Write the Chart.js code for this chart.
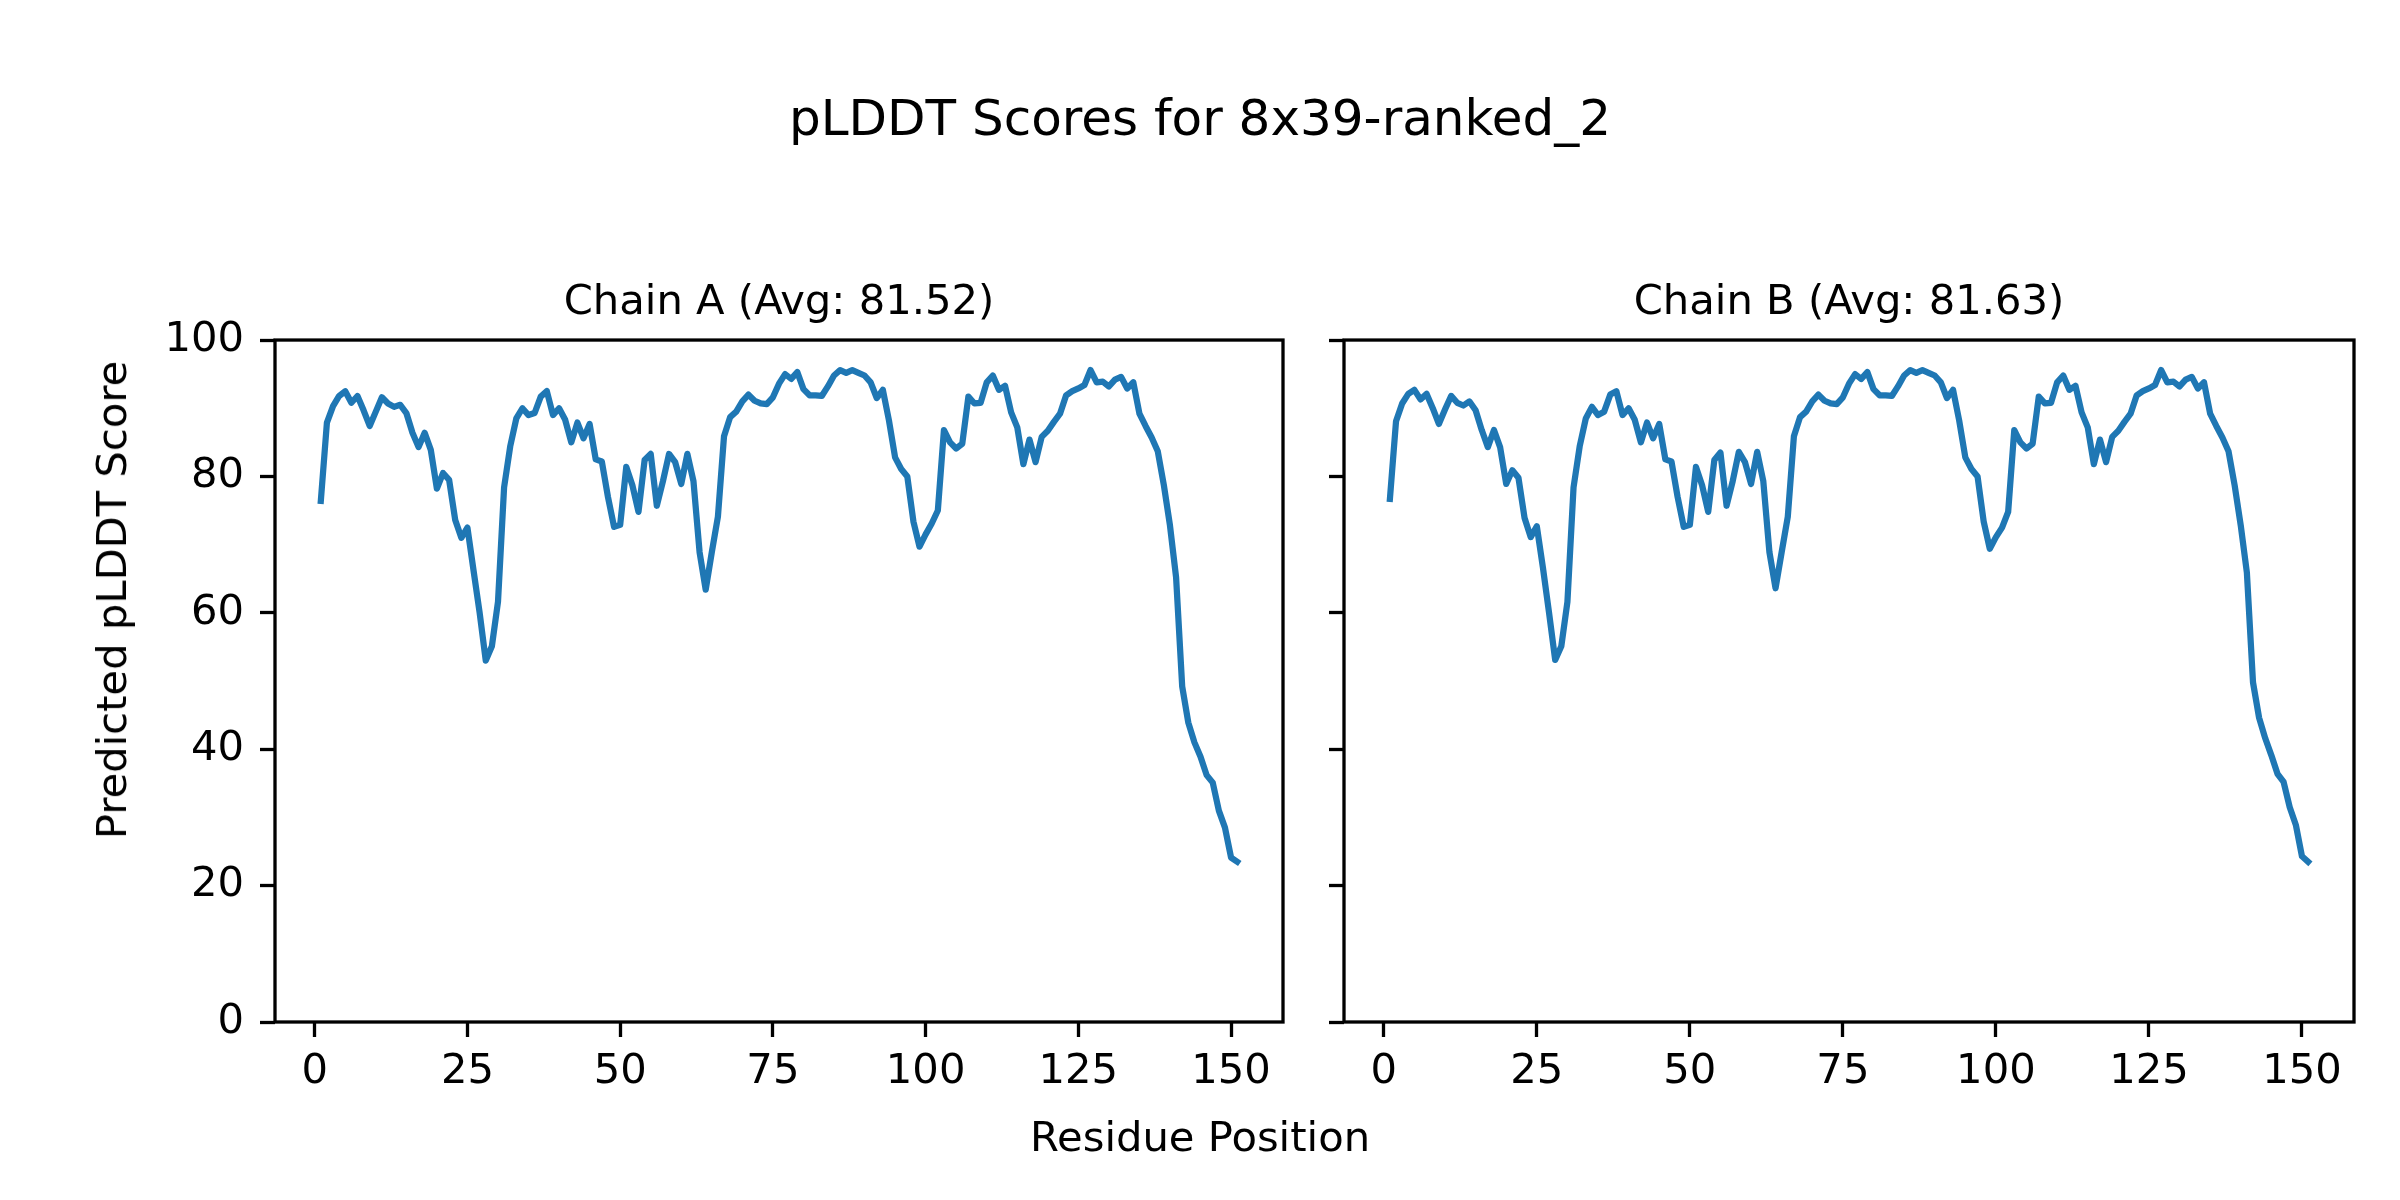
<!DOCTYPE html>
<html lang="en">
<head>
<meta charset="UTF-8">
<script src="https://cdn.jsdelivr.net/npm/chart.js"></script>
<style>
    body { margin: 0; background: #fff; font-family: "DejaVu Sans", sans-serif; }
    #fig { position: relative; width: 2400px; height: 1200px; overflow: hidden; background: #fff; }
    canvas { position: absolute; top: 0; }
    .txt { position: absolute; color: #000; white-space: nowrap; }
    #suptitle { left: 0; width: 2400px; top: 93px; font-size: 50px; line-height: 50px; text-align: center; }
    #xlabel { left: 0; width: 2400px; top: 1116px; font-size: 41.7px; line-height: 42px; text-align: center; }
    #ylabel { left: 112px; top: 600px; font-size: 41.7px; line-height: 42px; transform: translate(-50%, -50%) rotate(-90deg); }
</style>
</head>
<body>
<div id="fig">
    <div class="txt" id="suptitle">pLDDT Scores for 8x39-ranked_2</div>
    <canvas id="chartA" width="1320" height="1200" style="left:0px"></canvas>
    <canvas id="chartB" width="1080" height="1200" style="left:1320px"></canvas>
    <div class="txt" id="xlabel">Residue Position</div>
    <div class="txt" id="ylabel">Predicted pLDDT Score</div>
</div>
<script>
// pLDDT per residue
const chainA = [
    76.4, 87.9, 90.3, 91.8, 92.5, 90.8, 91.8, 89.7, 87.4, 89.5,
    91.6, 90.7, 90.2, 90.5, 89.3, 86.4, 84.3, 86.4, 83.9, 78.2,
    80.5, 79.5, 73.6, 71.0, 72.5, 66.2, 60.0, 53.0, 55.1, 61.6,
    78.4, 84.4, 88.5, 90.0, 89.0, 89.3, 91.7, 92.5, 89.0, 90.0,
    88.3, 85.0, 87.9, 85.6, 87.7, 82.5, 82.2, 77.0, 72.6, 72.9,
    81.4, 78.7, 74.8, 82.4, 83.3, 75.7, 79.3, 83.3, 82.1, 78.9,
    83.3, 79.3, 68.9, 63.4, 68.9, 74.1, 85.9, 88.7, 89.5, 91.0,
    92.0, 91.1, 90.7, 90.6, 91.6, 93.6, 95.0, 94.3, 95.3, 92.8,
    91.9, 91.9, 91.8, 93.2, 94.8, 95.6, 95.2, 95.6, 95.2, 94.8,
    93.8, 91.5, 92.7, 88.2, 82.8, 81.1, 80.0, 73.4, 69.7, 71.5,
    73.1, 75.0, 86.8, 85.0, 84.1, 84.8, 91.7, 90.7, 90.8, 93.8,
    94.8, 92.7, 93.3, 89.4, 87.2, 81.8, 85.4, 82.1, 85.8, 86.7,
    88.0, 89.2, 91.9, 92.5, 92.9, 93.4, 95.6, 93.8, 93.9, 93.2,
    94.2, 94.6, 92.9, 93.8, 89.2, 87.4, 85.7, 83.7, 78.7, 72.8,
    65.2, 49.2, 43.9, 41.0, 38.9, 36.2, 35.1, 31.0, 28.5, 24.1,
    23.5
];
const chainB = [
    76.7, 88.1, 90.7, 92.1, 92.7, 91.3, 92.1, 90.0, 87.7, 89.8,
    91.8, 90.8, 90.4, 91.0, 89.7, 86.8, 84.3, 86.8, 84.3, 78.9,
    80.9, 79.8, 73.9, 71.1, 72.7, 66.6, 60.0, 53.1, 55.1, 61.6,
    78.4, 84.4, 88.5, 90.2, 89.0, 89.5, 92.0, 92.5, 89.0, 90.0,
    88.3, 85.0, 87.9, 85.6, 87.7, 82.5, 82.2, 77.0, 72.6, 72.9,
    81.4, 78.7, 74.8, 82.4, 83.5, 75.7, 79.3, 83.6, 82.1, 78.9,
    83.6, 79.3, 68.9, 63.6, 68.9, 74.1, 85.9, 88.7, 89.5, 91.0,
    92.0, 91.1, 90.7, 90.6, 91.6, 93.6, 95.0, 94.3, 95.3, 92.8,
    91.9, 91.9, 91.8, 93.2, 94.8, 95.6, 95.2, 95.6, 95.2, 94.8,
    93.8, 91.5, 92.7, 88.2, 82.8, 81.1, 80.0, 73.4, 69.4, 71.1,
    72.5, 74.8, 86.8, 85.0, 84.1, 84.8, 91.7, 90.7, 90.8, 93.8,
    94.8, 92.7, 93.3, 89.4, 87.2, 81.8, 85.4, 82.1, 85.8, 86.7,
    88.0, 89.2, 91.9, 92.5, 92.9, 93.4, 95.6, 93.8, 93.9, 93.2,
    94.2, 94.6, 92.9, 93.8, 89.2, 87.4, 85.7, 83.7, 78.7, 72.8,
    65.9, 49.8, 44.6, 41.6, 39.1, 36.4, 35.2, 31.5, 28.9, 24.3,
    23.5
];
const chainTitles = ["Chain A (Avg: 81.52)", "Chain B (Avg: 81.63)"];
const xTicks = [0, 25, 50, 75, 100, 125, 150];
const yTicks = [0, 20, 40, 60, 80, 100];

const residues = chainA.map((v, i) => i + 1);
const FONT = "'DejaVu Sans', sans-serif";

// matplotlib draws a box round each axes
const spines = {
    id: 'spines',
    afterDraw(chart) {
        const { ctx, chartArea: a } = chart;
        ctx.save();
        ctx.strokeStyle = '#000';
        ctx.lineWidth = 3.3;
        ctx.strokeRect(a.left, a.top, a.right - a.left, a.bottom - a.top);
        ctx.restore();
    }
};

function makeChart(id, values, title, yWidth, showYLabels, padRight) {
    const tickFont = { family: FONT, size: 41.7 };
    return new Chart(document.getElementById(id), {
        type: 'line',
        data: {
            datasets: [{
                data: values.map((v, i) => ({ x: residues[i], y: v })),
                borderColor: '#1f77b4',
                borderWidth: 6.25,
                borderJoinStyle: 'round',
                borderCapStyle: 'square',
                pointRadius: 0,
                tension: 0,
                fill: false
            }]
        },
        options: {
            responsive: false,
            animation: false,
            devicePixelRatio: 1,
            layout: { padding: { left: 0, right: padRight, top: 0, bottom: 78 } },
            plugins: {
                legend: { display: false },
                tooltip: { enabled: false },
                title: {
                    display: true,
                    fullSize: false,
                    text: title,
                    color: '#000',
                    font: { family: FONT, size: 41.7, weight: 'normal' },
                    padding: { top: 278, bottom: 12 }
                }
            },
            scales: {
                x: {
                    type: 'linear',
                    min: -6.5,
                    max: 158.5,
                    afterBuildTicks: s => { s.ticks = xTicks.map(v => ({ value: v })); },
                    afterFit: s => { s.height = 100; },
                    grid: { drawOnChartArea: false, drawTicks: true, tickLength: 15, tickWidth: 3.3, tickColor: '#000' },
                    border: { display: false },
                    ticks: { color: '#000', font: tickFont, padding: 10, maxRotation: 0, autoSkip: false }
                },
                y: {
                    min: 0,
                    max: 100,
                    afterBuildTicks: s => { s.ticks = yTicks.map(v => ({ value: v })); },
                    afterFit: s => { s.width = yWidth; },
                    grid: { drawOnChartArea: false, drawTicks: true, tickLength: 15, tickWidth: 3.3, tickColor: '#000' },
                    border: { display: false },
                    ticks: { display: showYLabels, color: '#000', font: tickFont, padding: 16 }
                }
            }
        },
        plugins: [spines]
    });
}

makeChart('chartA', chainA, chainTitles[0], 275, true, 37);
makeChart('chartB', chainB, chainTitles[1], 24, false, 46);
</script>
</body>
</html>
